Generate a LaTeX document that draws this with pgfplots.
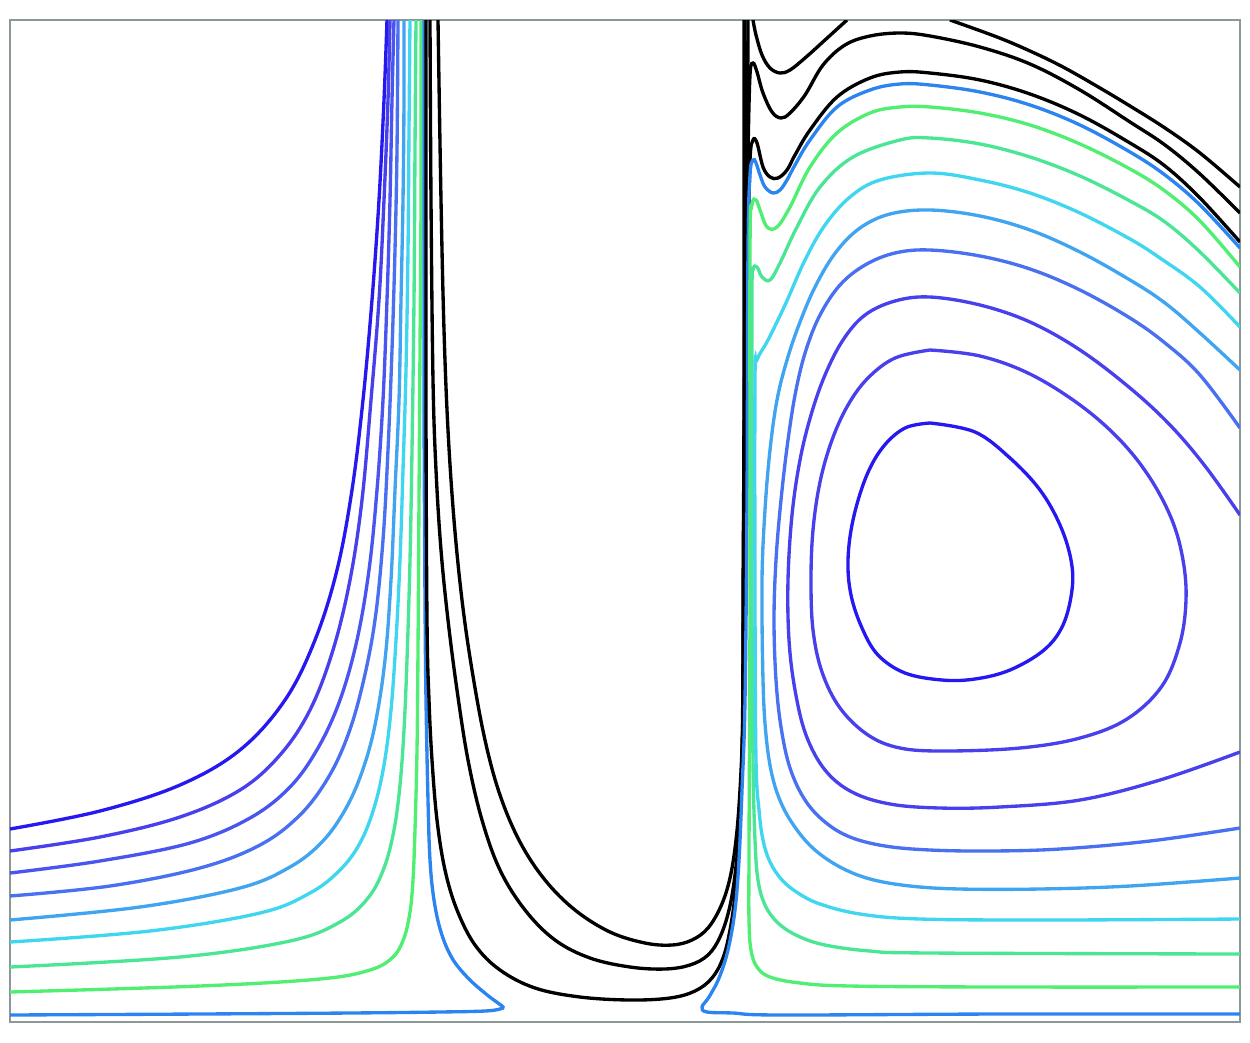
\documentclass[border=0pt]{standalone}
\usepackage{pgfplots}
\pgfplotsset{compat=1.18}
\definecolor{frame}{RGB}{140,152,152}
\definecolor{cA}{RGB}{38,24,240}
\definecolor{cB}{RGB}{72,64,236}
\definecolor{cC}{RGB}{74,84,240}
\definecolor{cD}{RGB}{72,112,240}
\definecolor{cE}{RGB}{64,164,240}
\definecolor{cF}{RGB}{64,214,240}
\definecolor{cG}{RGB}{74,230,150}
\definecolor{cH}{RGB}{80,238,115}
\definecolor{cI}{RGB}{44,132,240}
\begin{document}
\begin{tikzpicture}
\path[use as bounding box] (0,0) rectangle (12.5cm,10.42cm);
\begin{axis}[
  at={(0.1cm,0.2cm)}, anchor=south west,
  scale only axis, width=12.3cm, height=10.02cm,
  xmin=10, xmax=1240, ymin=20, ymax=1022, y dir=reverse,
  ticks=none,
  axis line style={frame, line width=0.8pt},
  every axis plot/.append style={line width=0.95pt, smooth, tension=0.6},
]
% ---- left fan ----
\addplot[cA] coordinates {(10,829) (100,811) (180,785) (240,750) (285,700) (315,640) (337,570) (352,490) (363,400) (372,300) (379,200) (384,100) (387,20)};
\addplot[cB] coordinates {(10,851) (100,837) (180,817) (240,790) (280,755) (310,710) (333,650) (350,580) (362,500) (371,400) (379,300) (384,200) (388,100) (390,20)};
\addplot[cC] coordinates {(10,873) (100,861) (190,843) (250,818) (290,787) (318,748) (340,700) (357,640) (369,570) (377,490) (383,400) (387,300) (390,200) (392,100) (394,20)};
\addplot[cD] coordinates {(10,896) (110,886) (200,868) (260,845) (300,815) (328,778) (348,735) (363,683) (375,620) (383,540) (388,450) (392,350) (395,250) (397,150) (398,20)};
\addplot[cE] coordinates {(10,920) (140,907) (240,888) (290,867) (322,842) (345,810) (362,772) (375,725) (385,660) (391,580) (395,490) (399,400) (401,300) (403,200) (404,100) (404,20)};
\addplot[cF] coordinates {(10,942) (150,931) (260,913) (310,893) (340,870) (360,843) (374,808) (384,765) (391,710) (396,640) (400,560) (403,470) (406,370) (408,250) (409,130) (410,20)};
\addplot[cG] coordinates {(10,967) (180,957) (290,941) (340,922) (368,898) (384,868) (394,830) (400,785) (404,730) (407,660) (410,560) (412,450) (414,300) (415,150) (416,20)};
\addplot[cH] coordinates {(10,992) (200,986) (320,979) (370,970) (393,957) (404,938) (410,912) (413,880) (415,830) (417,750) (418,650) (419,500) (420,350) (421,200) (421,20)};
\addplot[cI] coordinates {(10,1015) (200,1014) (350,1013) (440,1012) (485,1011) (500,1009) (503,1007) (498,1003) (486,994) (468,978) (452,958) (441,932) (434,900) (430,860) (428,800) (426,700) (425,600) (424,400) (424,200) (424,20)};
% ---- black U curves ----
\addplot[black] coordinates {(438,20) (441,200) (444,330) (448,430) (454,520) (462,600) (472,670) (485,740) (500,795) (520,842) (545,880) (575,910) (610,932) (645,943) (672,945) (692,940) (708,928) (721,906) (730,878) (736,840) (740,790) (743,720) (745,620) (746,450) (747,250) (748,20)};
\addplot[black] coordinates {(430,20) (431,200) (433,380) (436,470) (441,550) (448,620) (457,690) (468,760) (482,820) (500,870) (525,910) (555,940) (590,958) (630,967) (665,969) (690,965) (708,955) (720,937) (729,910) (735,875) (739,830) (742,760) (743,650) (744,450) (745,250) (745,20)};
\addplot[black] coordinates {(426,20) (426,400) (427,620) (429,700) (432,760) (437,820) (445,870) (457,910) (475,945) (500,970) (535,988) (580,997) (630,1000) (670,998) (695,991) (712,978) (723,958) (730,930) (735,895) (738,850) (741,790) (743,700) (743,600) (744,400) (744,20)};
% ---- black curves top right ----
\addplot[black] coordinates {(753,20) (756,35) (762,55) (770,68) (780,73) (790,70) (805,58) (825,40) (847,20)};
\addplot[black] coordinates {(950,20) (997,37) (1030,51) (1063,67) (1100,88) (1130,106) (1165,128) (1200,153) (1240,187)};
\addplot[black] coordinates {(1240,213) (1200,174) (1165,145) (1130,122) (1080,90) (1030,64) (980,47) (930,36) (900,33) (870,36) (845,45) (823,65) (805,95) (790,113) (781,118) (772,112) (763,93) (757,72) (753,63) (750,75) (748,150) (747,200)};
\addplot[black] coordinates {(1240,242) (1200,198) (1165,166) (1130,143) (1080,115) (1030,94) (980,80) (930,73) (900,72) (870,78) (837,97) (810,130) (795,155) (787,170) (778,178) (770,177) (763,167) (757,143) (753,140) (750,160) (748,250)};
% ---- right family ----
\addplot[cI] coordinates {(1240,248) (1200,205) (1165,175) (1130,152) (1080,125) (1030,105) (980,92) (930,85) (900,84) (870,90) (837,107) (810,140) (795,165) (787,180) (780,190) (773,193) (765,187) (760,175) (756,163) (753,160) (750,175) (748,250) (747,500) (745,700) (742,790) (739,860) (735,910) (728,950) (719,978) (709,997) (702,1007) (707,1012) (733,1013) (780,1015) (1000,1014) (1240,1014)};
\addplot[cH] coordinates {(1240,267) (1200,221) (1165,191) (1130,169) (1080,144) (1030,125) (980,113) (930,107) (900,107) (870,113) (837,133) (810,167) (790,207) (777,227) (767,227) (760,210) (756,200) (752,205) (750,250) (750,600) (749,850) (749,920) (751,950) (757,967) (770,977) (800,983) (850,986) (1000,987) (1240,987)};
\addplot[cG] coordinates {(1240,293) (1200,252) (1165,222) (1130,201) (1080,176) (1030,157) (980,144) (930,138) (900,140) (853,157) (820,187) (797,227) (780,263) (770,280) (762,277) (757,267) (753,270) (752,300) (752,600) (753,760) (755,840) (758,880) (765,905) (778,923) (798,936) (825,945) (870,951) (930,953) (1240,954)};
\addplot[cF] coordinates {(1240,327) (1200,287) (1160,258) (1130,239) (1080,213) (1030,193) (980,180) (930,173) (880,180) (850,197) (825,225) (805,260) (785,305) (768,340) (757,360) (755,380) (755,600) (756,760) (759,810) (763,840) (770,862) (782,880) (798,893) (820,904) (860,914) (920,919) (1050,920) (1240,919)};
\addplot[cE] coordinates {(1240,370) (1200,333) (1165,303) (1130,280) (1080,252) (1030,230) (980,216) (930,210) (890,214) (860,228) (836,252) (816,285) (800,322) (787,360) (777,400) (770,450) (765,510) (762,580) (763,680) (766,735) (772,775) (782,805) (797,830) (815,850) (840,867) (870,879) (910,886) (960,889) (1040,889) (1130,886) (1240,878)};
\addplot[cD] coordinates {(1240,428) (1200,375) (1165,343) (1130,318) (1080,290) (1030,269) (980,256) (930,250) (895,253) (865,265) (840,285) (820,315) (806,350) (796,390) (788,440) (781,500) (776,560) (774,620) (776,680) (781,727) (790,768) (805,800) (825,822) (850,837) (885,846) (930,850) (990,851) (1060,849) (1150,841) (1240,828)};
\addplot[cB] coordinates {(1240,515) (1205,466) (1170,425) (1130,388) (1080,350) (1030,322) (980,305) (930,297) (895,301) (865,315) (843,340) (825,375) (811,415) (800,460) (792,515) (788,580) (789,640) (795,690) (806,735) (825,770) (852,792) (890,804) (940,808) (1000,807) (1080,800) (1160,780) (1240,752)};
% ---- closed rings ----
\addplot[cB] coordinates {(930,350) (980,356) (1030,374) (1080,405) (1120,440) (1150,478) (1172,520) (1183,560) (1186,600) (1180,643) (1162,686) (1127,719) (1080,738) (1020,748) (945,751) (900,748) (868,735) (840,708) (822,672) (813,630) (811,580) (813,530) (820,482) (832,440) (848,405) (868,378) (895,358) (930,350)};
\addplot[cA] coordinates {(930,423) (975,432) (1010,458) (1040,490) (1060,525) (1071,560) (1072,590) (1063,625) (1044,650) (1010,670) (975,679) (942,680) (905,673) (878,655) (862,628) (851,595) (848,560) (853,520) (866,477) (883,447) (905,428) (930,423)};
\end{axis}
\end{tikzpicture}
\end{document}
